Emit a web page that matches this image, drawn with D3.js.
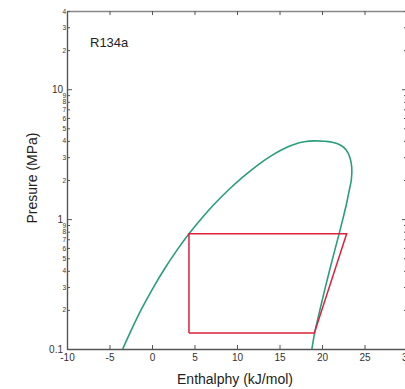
<!DOCTYPE html>
<html><head><meta charset="utf-8">
<script src="https://cdn.jsdelivr.net/npm/d3@7"></script>
<style>
html,body{margin:0;padding:0;background:#fff;}
svg{display:block;font-family:"Liberation Sans",Arial,Helvetica,sans-serif;}
</style></head>
<body>
<svg id="c" width="405" height="389"></svg>
<script>
// Saturated liquid line (pressure MPa, enthalpy kJ/mol)
const liquidP = [0.1, 0.1327, 0.2006, 0.2928, 0.4146, 0.5717, 0.7702, 1.0166, 1.3179, 1.6818, 2.12, 2.65, 3.12, 3.48, 3.76, 3.94, 4.0];
const liquidH = [-3.45, -2.60, -1.27, 0.10, 1.48, 2.90, 4.35, 5.85, 7.40, 9.02, 10.74, 12.6, 14.2, 15.5, 16.7, 17.9, 19.2];
// Saturated vapour line (from critical point down)
const vaporP = [3.90, 3.70, 3.40, 2.95, 2.5, 2.0, 1.6818, 1.3179, 1.0166, 0.7702, 0.5717, 0.4146, 0.2928, 0.2006, 0.1327, 0.1];
const vaporH = [21.2, 22.2, 22.85, 23.3, 23.5, 23.45, 23.22, 22.89, 22.48, 22.01, 21.49, 20.94, 20.36, 19.76, 19.13, 18.81];
// Refrigeration cycle
const cycleH = [4.35, 19.10, 22.9, 4.35, 4.35];
const cycleP = [0.1327, 0.1327, 0.7702, 0.7702, 0.1327];
// Ticks
const xTicks = [-10, -5, 0, 5, 10, 15, 20, 25, 30];
const yMajor = [0.1, 1, 10];
const yMinor = [0.2,0.3,0.4,0.5,0.6,0.7,0.8,0.9,2,3,4,5,6,7,8,9,20,30,40];
const title = "R134a";
const xLabel = "Enthalphy (kJ/mol)";
const yLabel = "Presure (MPa)";

const svg = d3.select("#c");
const L = 67, R = 407, T = 11, B = 349;
const x = d3.scaleLinear().domain([-10, 30]).range([L, R]);
const y = d3.scaleLog().domain([0.1, 40]).range([B, T]);
const axisCol = "#555";
const txtCol = "#333";

// dome
const dome = liquidP.map((p,i)=>[liquidH[i], p]).concat(vaporP.map((p,i)=>[vaporH[i], p]));
const line = d3.line().x(d=>x(d[0])).y(d=>y(d[1])).curve(d3.curveCatmullRom.alpha(0.5));
svg.append("path").attr("d", line(dome)).attr("fill","none")
  .attr("stroke","#2a9e7c").attr("stroke-width",1.6);

const cyc = cycleH.map((h,i)=>[h, cycleP[i]]);
svg.append("path").attr("d", d3.line().x(d=>x(d[0])).y(d=>y(d[1]))(cyc))
  .attr("fill","none").attr("stroke","#e0203c").attr("stroke-width",1.5)
  .attr("stroke-linejoin","miter");

// bottom axis
const gx = svg.append("g").attr("transform",`translate(0,${B})`)
  .call(d3.axisBottom(x).tickValues(xTicks).tickSize(-4).tickSizeOuter(0).tickPadding(5).tickFormat(d=>String(d)));
gx.selectAll("text").attr("font-size",10).attr("fill",txtCol);
// top axis
const gt = svg.append("g").attr("transform",`translate(0,${T})`)
  .call(d3.axisTop(x).tickValues(xTicks).tickSize(-4).tickSizeOuter(0).tickFormat(""));
// left axis
const allY = yMajor.concat(yMinor);
const gy = svg.append("g").attr("transform",`translate(${L},0)`)
  .call(d3.axisLeft(y).tickValues(allY).tickSizeOuter(0)
    .tickFormat(d => yMajor.includes(d) ? String(d) : String(Math.round(d/Math.pow(10,Math.floor(Math.log10(d)+1e-9))))));
gy.selectAll(".tick").each(function(d){
  const major = yMajor.includes(d);
  const g = d3.select(this);
  g.select("line").attr("x2", major ? 5 : 3);
  g.select("text").attr("x", major ? -4 : -1).attr("font-size", major ? 10 : 6.5).attr("fill",txtCol);
});
// right axis (mostly off-canvas)
const gr = svg.append("g").attr("transform",`translate(${R},0)`)
  .call(d3.axisRight(y).tickValues(allY).tickSizeOuter(0).tickFormat(""));
gr.selectAll(".tick line").attr("x2", d => yMajor.includes(d) ? -5 : -3);

[gx,gt,gy,gr].forEach(g=>{
  g.select(".domain").attr("stroke",axisCol).attr("stroke-width",1.4);
  g.selectAll(".tick line").attr("stroke",axisCol).attr("stroke-width",1);
});
gt.select(".domain").attr("stroke","#888");

svg.append("text").attr("x",90).attr("y",47).attr("font-size",13).attr("fill","#222").text(title);
svg.append("text").attr("x",235).attr("y",384).attr("text-anchor","middle")
  .attr("font-size",14).attr("fill","#222").text(xLabel);
svg.append("text").attr("transform","translate(37,178) rotate(-90)").attr("text-anchor","middle")
  .attr("font-size",14).attr("fill","#222").text(yLabel);
</script>
</body></html>
